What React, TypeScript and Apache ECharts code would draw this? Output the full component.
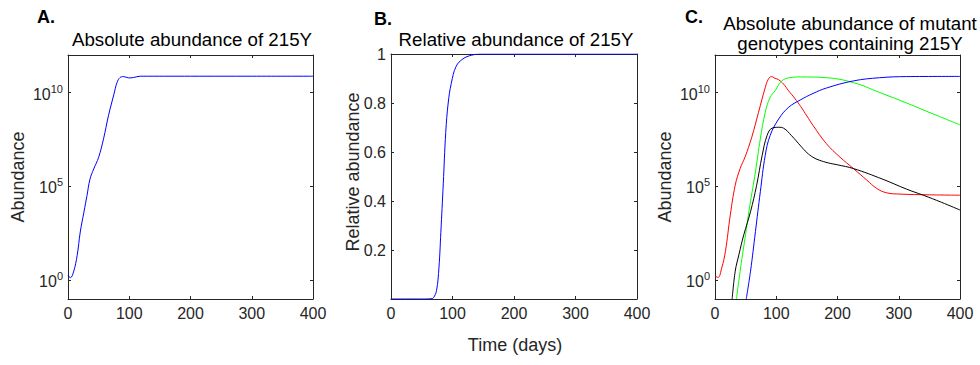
import React, { useEffect, useRef } from "react";
import * as echarts from "echarts";

// ---------- data ----------
const timeTicks = [0, 100, 200, 300, 400];
const logTicks = [1, 1e5, 1e10];

// Panel A: absolute abundance of 215Y
const aTime = [0, 4, 9, 15, 20, 26, 31, 36, 42, 50, 58, 66, 75, 80, 85, 91, 99, 107, 118, 130, 200, 300, 400];
const aAbund = [1.82, 1.38, 2.75, 21.4, 372, 4.27e3, 3.24e4, 2.51e5, 8.51e5, 3.55e6, 3.39e7, 5.75e8, 8.13e9, 3.39e10, 6.31e10, 7.08e10, 6.03e10, 6.31e10, 7.41e10, 7.41e10, 7.41e10, 7.41e10, 7.41e10];

// Panel B: relative abundance of 215Y
const bTime = [0, 55, 65, 69, 74, 78, 81, 85, 89, 93, 98, 106, 117, 131, 147, 200, 300, 400];
const bRel = [0, 0, 0.001, 0.005, 0.034, 0.13, 0.27, 0.47, 0.68, 0.8, 0.88, 0.95, 0.98, 0.995, 1, 1, 1, 1];

// Panel C: mutant genotypes containing 215Y
const redTime = [0, 5, 11, 17, 25, 33, 41, 49, 60, 71, 82, 87, 92, 98, 104, 112, 120, 130, 140, 150, 160, 182, 204, 226, 248, 264, 280, 302, 350, 400];
const redAbund = [1.66, 1.41, 4.57, 33.9, 3.02e3, 1.15e5, 8.91e5, 3.63e6, 4.17e7, 8.71e8, 1.82e10, 5.13e10, 7.08e10, 5.75e10, 4.79e10, 2.82e10, 1.26e10, 5.01e9, 1.78e9, 5.62e8, 1.78e8, 1.86e7, 3.63e6, 8.91e5, 2.14e5, 7.76e4, 4.57e4, 3.89e4, 3.55e4, 3.39e4];

const greenTime = [35, 41, 49, 57, 66, 74, 82, 90, 98, 109, 122, 140, 182, 226, 269, 313, 356, 400];
const greenAbund = [0.1, 3.02, 174, 1.0e4, 5.89e5, 3.39e7, 8.71e8, 5.5e9, 1.23e10, 4.17e10, 6.17e10, 6.76e10, 6.17e10, 3.39e10, 1.0e10, 2.75e9, 7.24e8, 1.91e8];

const blueTime = [51, 58, 66, 74, 82, 90, 104, 120, 139, 160, 182, 226, 269, 313, 400];
const blueAbund = [0.1, 3.02, 389, 5.13e4, 4.47e6, 5.13e7, 3.89e8, 1.62e9, 3.98e9, 8.91e9, 1.74e10, 4.17e10, 6.17e10, 7.08e10, 7.24e10];

const blackTime = [28, 33, 39, 47, 58, 68, 77, 85, 93, 104, 112, 125, 140, 150, 160, 170, 185, 200, 226, 274, 313, 340, 370, 400];
const blackAbund = [0.1, 3.02, 22.9, 263, 4.47e3, 1.15e5, 4.47e6, 5.13e7, 1.26e8, 1.41e8, 1.26e8, 5.01e7, 1.41e7, 6.31e6, 3.55e6, 2.51e6, 1.78e6, 1.41e6, 8.91e5, 2.4e5, 7.08e4, 3.39e4, 1.41e4, 5.5e3];

// ---------- styling ----------
const FONT = "'Liberation Sans', Arial, Helvetica, sans-serif";
const AXIS = "#262626";

const pairs = (xs: number[], ys: number[]) => xs.map((x, i) => [x, ys[i]]);

const axisLine = { show: true, onZero: false, lineStyle: { color: AXIS, width: 1 } };

function xAxisPair(grid: number) {
  const base = {
    type: "value",
    gridIndex: grid,
    min: 0,
    max: 400,
    interval: 100,
    axisLine,
    axisTick: { show: true, inside: true, length: 3, lineStyle: { color: AXIS } },
    splitLine: { show: false },
    minorTick: { show: false },
  };
  return [
    {
      ...base,
      position: "bottom",
      axisLabel: {
        show: true,
        color: AXIS,
        fontSize: 16,
        fontFamily: FONT,
        margin: 6,
        customValues: timeTicks,
      },
    },
    { ...base, position: "top", axisLabel: { show: false } },
  ];
}

const logFormatter = (v: number) => {
  const e = Math.round(Math.log10(v));
  return `{b|10}{s|${e}}`;
};

function logAxisPair(grid: number) {
  const base = {
    type: "log",
    logBase: 10,
    gridIndex: grid,
    min: 0.1,
    max: 1e12,
    axisLine,
    axisTick: { show: true, inside: true, length: 3, lineStyle: { color: AXIS }, customValues: logTicks },
    splitLine: { show: false },
    minorTick: { show: false },
  };
  return [
    {
      ...base,
      position: "left",
      axisLabel: {
        show: true,
        margin: 5,
        customValues: logTicks,
        formatter: logFormatter,
        rich: {
          b: { fontSize: 16, color: AXIS, fontFamily: FONT, verticalAlign: "bottom" },
          s: { fontSize: 11, color: AXIS, fontFamily: FONT, verticalAlign: "bottom", padding: [0, 0, 8, 0] },
        },
      },
    },
    { ...base, position: "right", axisLabel: { show: false } },
  ];
}

function relAxisPair(grid: number) {
  const base = {
    type: "value",
    gridIndex: grid,
    min: 0,
    max: 1,
    interval: 0.2,
    axisLine,
    axisTick: { show: true, inside: true, length: 3, lineStyle: { color: AXIS } },
    splitLine: { show: false },
    minorTick: { show: false },
  };
  return [
    {
      ...base,
      position: "left",
      axisLabel: {
        show: true,
        color: AXIS,
        fontSize: 16,
        fontFamily: FONT,
        margin: 5,
        formatter: (v: number) => (v === 0 ? "" : String(Math.round(v * 10) / 10)),
      },
    },
    { ...base, position: "right", axisLabel: { show: false } },
  ];
}

function line(name: string, xs: number[], ys: number[], color: string, gi: number) {
  return {
    type: "line",
    name,
    xAxisIndex: gi * 2,
    yAxisIndex: gi * 2,
    data: pairs(xs, ys),
    showSymbol: false,
    symbol: "none",
    smooth: 0.4,
    clip: true,
    lineStyle: { color, width: 1 },
    itemStyle: { color },
    silent: true,
  };
}

function txt(text: string, x: number, y: number, opts: any = {}) {
  const { rotation, ...style } = opts;
  return {
    type: "text",
    x,
    y,
    rotation: rotation || 0,
    silent: true,
    style: {
      text,
      fontSize: 18.7,
      fontFamily: FONT,
      fill: "#000",
      textAlign: "center",
      textVerticalAlign: "middle",
      ...style,
    },
  };
}

export default function App() {
  const ref = useRef<HTMLDivElement>(null);

  useEffect(() => {
    if (!ref.current) return;
    const chart = echarts.init(ref.current, undefined, { renderer: "svg" });
    const option: any = {
      animation: false,
      backgroundColor: "#ffffff",
      grid: [
        { left: 68, top: 55, width: 245, height: 244, containLabel: false },
        { left: 391, top: 54, width: 246, height: 245, containLabel: false },
        { left: 715, top: 55, width: 245, height: 244, containLabel: false },
      ],
      xAxis: [...xAxisPair(0), ...xAxisPair(1), ...xAxisPair(2)],
      yAxis: [...logAxisPair(0), ...relAxisPair(1), ...logAxisPair(2)],
      series: [
        line("215Y", aTime, aAbund, "#0000ff", 0),
        line("215Y relative", bTime, bRel, "#0000ff", 1),
        line("red", redTime, redAbund, "#ff0000", 2),
        line("green", greenTime, greenAbund, "#00ff00", 2),
        line("blue", blueTime, blueAbund, "#0000ff", 2),
        line("black", blackTime, blackAbund, "#000000", 2),
      ],
      graphic: [
        txt("A.", 37, 17, { fontWeight: "bold", textAlign: "left", fontSize: 18 }),
        txt("B.", 374, 19, { fontWeight: "bold", textAlign: "left", fontSize: 18 }),
        txt("C.", 685, 17, { fontWeight: "bold", textAlign: "left", fontSize: 18 }),
        txt("Absolute abundance of 215Y", 192, 39),
        txt("Relative abundance of 215Y", 516, 39),
        txt("Absolute abundance of mutant", 850, 23),
        txt("genotypes containing 215Y", 850, 43),
        txt("Abundance", 18, 177, { rotation: Math.PI / 2, fill: AXIS, fontSize: 18 }),
        txt("Relative abundance", 353, 172, { rotation: Math.PI / 2, fill: AXIS, fontSize: 18 }),
        txt("Abundance", 665, 177, { rotation: Math.PI / 2, fill: AXIS, fontSize: 18 }),
        txt("Time (days)", 515, 345, { fill: AXIS, fontSize: 18 }),
      ],
    };
    chart.setOption(option);
    return () => chart.dispose();
  }, []);

  return (
    <div
      ref={ref}
      style={{ position: "fixed", left: 0, top: 0, width: 980, height: 365, background: "#fff" }}
    />
  );
}
